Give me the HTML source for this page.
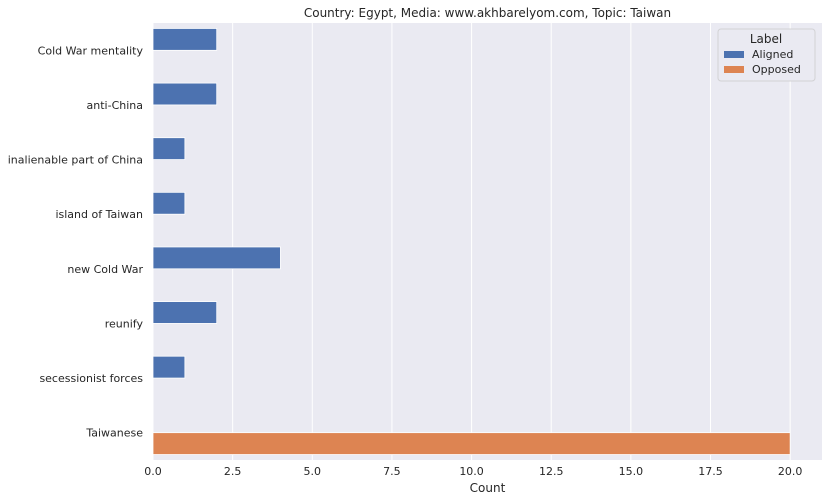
<!DOCTYPE html>
<html><head><meta charset="utf-8"><style>
html,body{margin:0;padding:0;background:#fff;}
svg{display:block;font-family:"DejaVu Sans","Liberation Sans",sans-serif;}
</style></head><body>
<svg id="chart" width="829" height="501"></svg>
<script>
const categories=["Cold War mentality","anti-China","inalienable part of China","island of Taiwan","new Cold War","reunify","secessionist forces","Taiwanese"];
const alignedValues=[2,2,1,1,4,2,1,0];
const opposedValues=[0,0,0,0,0,0,0,20];
const xTicks=[0,2.5,5,7.5,10,12.5,15,17.5,20];
const xTickLabels=["0.0","2.5","5.0","7.5","10.0","12.5","15.0","17.5","20.0"];
const seriesNames=["Aligned","Opposed"];

const NS="http://www.w3.org/2000/svg";
const svg=document.getElementById('chart');
const L=153,R=822,T=23,B=460,XMAX=21;
const x=v=>L+v/XMAX*(R-L);
const band=(B-T)/categories.length;
const yc=i=>T+band*(i+0.5);
function mk(tag,attrs,parent){const e=document.createElementNS(NS,tag);for(const k in attrs)e.setAttribute(k,attrs[k]);(parent||svg).appendChild(e);return e;}

const bg=mk('rect',{x:L,y:T,width:R-L,height:B-T,fill:'#eaeaf2'});



xTicks.forEach((t,i)=>{
  const g=mk('line',{x1:x(t),x2:x(t),y1:T,y2:B,stroke:'#fff','stroke-width':1});
  
  
  const tl=mk('text',{x:x(t),y:B+15,'text-anchor':'middle','font-size':11,fill:'#262626'});
  tl.textContent=xTickLabels[i];
  
  
});

const colors=['#4c72b0','#dd8452'];
const bh=band*0.4;
categories.forEach((c,i)=>{
  const tl=mk('text',{x:L-10,y:yc(i)+4,'text-anchor':'end','font-size':11,fill:'#262626'});
  tl.textContent=c;
  
  
  [alignedValues,opposedValues].forEach((vals,s)=>{
    if(!vals[i])return;
    const y0=s===0?yc(i)-bh:yc(i);
    const r=mk('rect',{x:x(0),y:y0,width:x(vals[i])-x(0),height:bh,fill:colors[s],stroke:'#fff','stroke-width':0.8});
    
    
  });
});

const xt=mk('text',{x:(L+R)/2,y:B+32,'text-anchor':'middle','font-size':12,fill:'#262626'});
xt.textContent='Count';



const tt=mk('text',{x:(L+R)/2,y:T-6,'text-anchor':'middle','font-size':12,fill:'#262626'});
tt.textContent='Country: Egypt, Media: www.akhbarelyom.com, Topic: Taiwan';



const lg=mk('g',{});


mk('rect',{x:718,y:29,width:97,height:52,rx:3,fill:'#eaeaf2',stroke:'#ccc','stroke-opacity':0.8},lg);
const lt=mk('text',{x:766,y:43,'text-anchor':'middle','font-size':12,fill:'#262626'},lg);
lt.textContent='Label';
seriesNames.forEach((n,s)=>{
  const e=mk('g',{},lg);
  
  
  mk('rect',{x:724,y:51+s*15,width:20,height:7,fill:colors[s]},e);
  const t=mk('text',{x:752,y:58+s*15,'font-size':11,fill:'#262626'},e);
  t.textContent=n;
});
</script>
</body></html>
